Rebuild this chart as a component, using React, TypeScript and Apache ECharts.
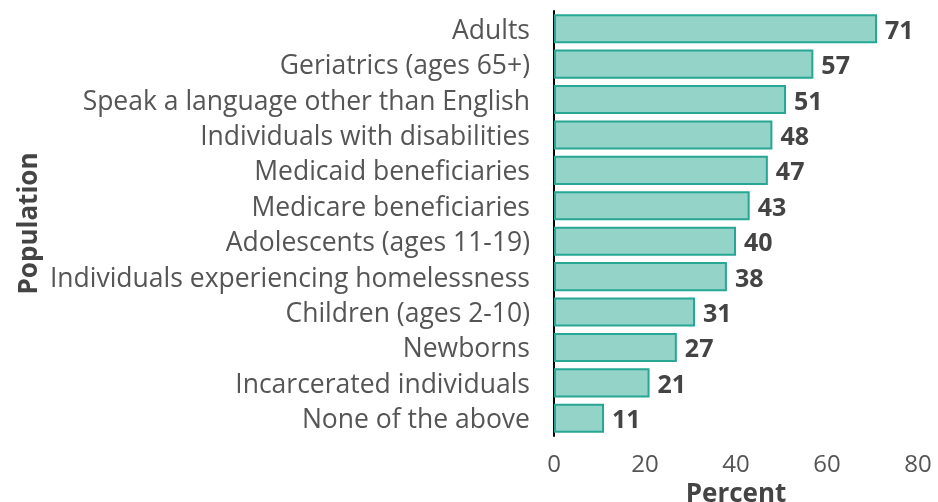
import React, { useEffect, useRef } from "react";
import * as echarts from "echarts";

const categories = [
  "Adults",
  "Geriatrics (ages 65+)",
  "Speak a language other than English",
  "Individuals with disabilities",
  "Medicaid beneficiaries",
  "Medicare beneficiaries",
  "Adolescents (ages 11-19)",
  "Individuals experiencing homelessness",
  "Children (ages 2-10)",
  "Newborns",
  "Incarcerated individuals",
  "None of the above",
];
const values = [71, 57, 51, 48, 47, 43, 40, 38, 31, 27, 21, 11];
const xTicks = [0, 20, 40, 60, 80];

export default function App() {
  const ref = useRef<HTMLDivElement>(null);
  useEffect(() => {
    if (!ref.current) return;
    const chart = echarts.init(ref.current, undefined, { renderer: "svg" });
    const font = "'Open Sans', 'Noto Sans', sans-serif";
    chart.setOption({
      animation: false,
      textStyle: { fontFamily: font },
      grid: { left: 554, right: 20, top: 11, bottom: 66, outerBoundsMode: "none", containLabel: false },
      xAxis: {
        type: "value",
        min: xTicks[0],
        max: xTicks[xTicks.length - 1],
        interval: 20,
        name: "Percent",
        nameLocation: "middle",
        nameGap: 40,
        nameTextStyle: { fontSize: 26, fontWeight: "bold", color: "#444", fontFamily: font },
        axisLine: { show: false },
        axisTick: { show: false },
        splitLine: { show: false },
        axisLabel: { fontSize: 24, color: "#555", margin: 14, fontFamily: font },
      },
      yAxis: {
        type: "category",
        data: categories,
        inverse: true,
        name: "Population",
        nameLocation: "middle",
        nameGap: 514,
        nameTextStyle: { fontSize: 26, fontWeight: "bold", color: "#444", fontFamily: font },
        axisLine: { show: true, lineStyle: { color: "#000", width: 2 } },
        axisTick: { show: false },
        axisLabel: { fontSize: 26.5, color: "#555", margin: 24, interval: 0, fontFamily: font },
      },
      series: [
        {
          type: "bar",
          data: values,
          barCategoryGap: "18%",
          itemStyle: { color: "#93d3c8", borderColor: "#26a693", borderWidth: 2 },
          label: {
            show: true,
            position: "right",
            distance: 8,
            fontSize: 25,
            fontWeight: "bold",
            color: "#444",
            fontFamily: font,
          },
        },
      ],
    });
    return () => chart.dispose();
  }, []);
  return (
    <div
      ref={ref}
      style={{ position: "fixed", left: 0, top: 0, width: 938, height: 502 }}
    />
  );
}
